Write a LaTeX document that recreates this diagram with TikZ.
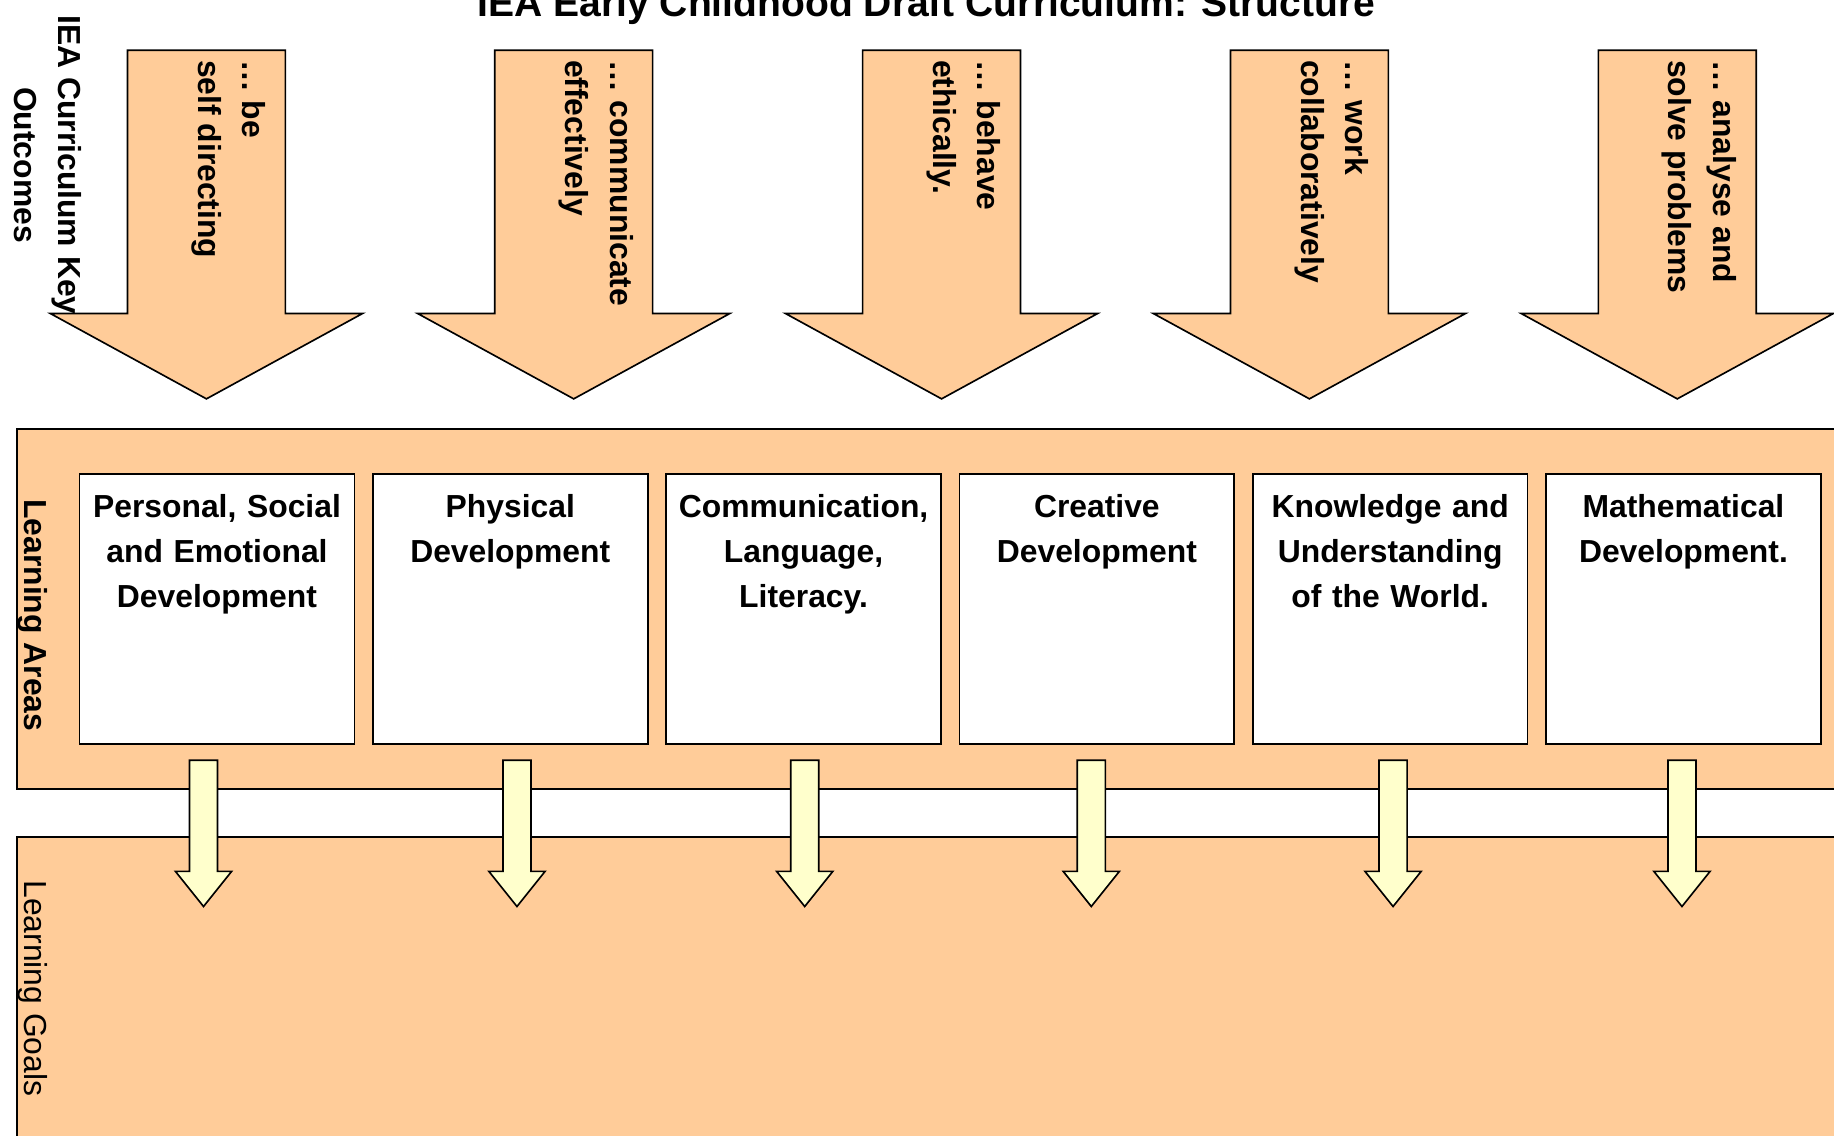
\documentclass[tikz,border=0pt]{standalone}
\usepackage{fontspec}
\setmainfont{Liberation Sans}
\usepackage{xcolor}
\usetikzlibrary{positioning, calc}
\definecolor{peach}{HTML}{FFCC99}
\definecolor{paleyellow}{HTML}{FFFFCC}

\begin{document}
\begin{tikzpicture}[
    x=0.02cm, y=-0.02cm,
    node distance=0.288cm,
    txt/.style={font=\fontsize{15.5}{21.8}\selectfont\bfseries, inner sep=0pt},
    vtxt/.style={txt, rotate=-90},
    area/.style={rectangle, draw, fill=white, line width=0.8pt, minimum width=4.7cm, minimum height=4.62cm},
    areatext/.style={txt, text width=4.5cm, align=center},
    panel/.style={rectangle, draw, fill=peach, line width=0.8pt, anchor=north west},
    outcome/.pic={
        \draw[fill=peach, line width=0.8pt] (-67.5,0) -- (67.5,0) -- (67.5,225) -- (133.5,225) -- (0,298) -- (-133.5,225) -- (-67.5,225) -- cycle;
    },
    goalarrow/.pic={
        \draw[fill=paleyellow, line width=0.8pt] (-12,0) -- (12,0) -- (12,95) -- (24,95) -- (0,125) -- (-24,95) -- (-12,95) -- cycle;
    },
]
\useasboundingbox (0,0) rectangle (1568,971);

% Title
\node[font=\fontsize{19}{23}\selectfont\bfseries, anchor=base] (title) at (792,14) {IEA Early Childhood Draft Curriculum: Structure};
\node[vtxt, align=center] (keylabel) at (41,141) {IEA Curriculum Key\\Outcomes};

% Key outcomes
\pic at (176.5,43) {outcome};
\pic at (490.5,43) {outcome};
\pic at (805,43) {outcome};
\pic at (1119.5,43) {outcome};
\pic at (1434,43) {outcome};
\node[vtxt, align=left, anchor=west] (o1) at (195.5,51) {… be\\self directing};
\node[vtxt, align=left, anchor=west] (o2) at (509.5,51) {… communicate\\effectively};
\node[vtxt, align=left, anchor=west] (o3) at (824,51) {… behave\\ethically.};
\node[vtxt, align=left, anchor=west] (o4) at (1138.5,51) {… work\\collaboratively};
\node[vtxt, align=left, anchor=west] (o5) at (1453,51) {… analyse and\\solve problems};

% Panels
\node[panel, minimum width=31.72cm, minimum height=6.16cm] (areas) at (14,366) {};
\node[panel, minimum width=31.72cm, minimum height=5.7cm] (goals) at (14,715) {};
\node[vtxt, anchor=base] (arealabel) at (21,526) {Learning Areas};
\node[vtxt, font=\fontsize{15.5}{21.8}\selectfont, anchor=base] (goallabel) at (21,845) {Learning Goals};

% Learning areas
\node[area] (a1) at (185.5,520.5) {};
\node[area, right=of a1] (a2) {};
\node[area, right=of a2] (a3) {};
\node[area, right=of a3] (a4) {};
\node[area, right=of a4] (a5) {};
\node[area, right=of a5] (a6) {};
\node[areatext, below=0.36cm of a1.north] (t1) {Personal, Social\\and Emotional\\Development};
\node[areatext, below=0.36cm of a2.north] (t2) {Physical\\Development};
\node[areatext, below=0.36cm of a3.north] (t3) {Communication,\\Language,\\Literacy.};
\node[areatext, below=0.36cm of a4.north] (t4) {Creative\\Development};
\node[areatext, below=0.36cm of a5.north] (t5) {Knowledge and\\Understanding\\of the World.};
\node[areatext, below=0.36cm of a6.north] (t6) {Mathematical\\Development.};

% Arrows to goals
\pic at (174,650) {goalarrow};
\pic at (442,650) {goalarrow};
\pic at (688,650) {goalarrow};
\pic at (933,650) {goalarrow};
\pic at (1191,650) {goalarrow};
\pic at (1438,650) {goalarrow};

\end{tikzpicture}
\end{document}
